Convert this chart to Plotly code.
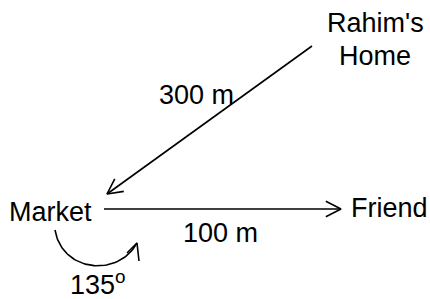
import numpy as np
import plotly.graph_objects as go

# Diagram nodes (pixel-like coordinate frame, y down)
node_names = ["Rahim's Home", "Market", "Friend"]
node_x = [312, 104, 341]
node_y = [46, 194, 209]

# Edges: (from, to), labels and label positions
edge_from = [(312, 46), (104, 209)]
edge_to = [(107, 194), (341, 209)]
edge_labels = ["300 m", "100 m"]
edge_label_x = [196, 220]
edge_label_y = [95, 233]

# Text labels
text_labels = ["Rahim's", "Home", "Market", "Friend"]
text_x = [375, 375, 50, 389]
text_y = [23, 56, 212, 208]

angle_label = "135<sup>o</sup>"
angle_x, angle_y = 98, 283

FONT = dict(family="Liberation Sans, Arial, sans-serif", size=27, color="black")

fig = go.Figure()

def arrowhead(p_from, p_to, length=17, half_angle=27):
    d = np.array(p_to, float) - np.array(p_from, float)
    d /= np.linalg.norm(d)
    pts = []
    for s in (1, -1):
        a = np.radians(s * half_angle)
        rot = np.array([[np.cos(a), -np.sin(a)], [np.sin(a), np.cos(a)]])
        back = rot @ (-d) * length
        pts.append(np.array(p_to) + back)
    return pts

for p0, p1 in zip(edge_from, edge_to):
    fig.add_trace(go.Scatter(x=[p0[0], p1[0]], y=[p0[1], p1[1]], mode="lines",
                             line=dict(color="black", width=1.6), hoverinfo="skip"))
    a1, a2 = arrowhead(p0, p1)
    fig.add_trace(go.Scatter(x=[a1[0], p1[0], a2[0]], y=[a1[1], p1[1], a2[1]], mode="lines",
                             line=dict(color="black", width=1.6), hoverinfo="skip"))

# Curved angle arrow
t = np.linspace(0, 1, 60)
P0, P1, P2, P3 = np.array([55, 230]), np.array([62, 272]), np.array([118, 278]), np.array([137, 243])
curve = ((1 - t)[:, None] ** 3) * P0 + 3 * ((1 - t)[:, None] ** 2) * t[:, None] * P1 \
    + 3 * (1 - t)[:, None] * (t[:, None] ** 2) * P2 + (t[:, None] ** 3) * P3
fig.add_trace(go.Scatter(x=curve[:, 0], y=curve[:, 1], mode="lines",
                         line=dict(color="black", width=1.6), hoverinfo="skip"))
fig.add_trace(go.Scatter(x=[127, 137, 139], y=[253, 243, 261], mode="lines",
                         line=dict(color="black", width=1.6), hoverinfo="skip"))

for txt, x, y in zip(text_labels, text_x, text_y):
    fig.add_annotation(x=x, y=y, text=txt, showarrow=False, font=FONT,
                       xanchor="center", yanchor="middle")
for txt, x, y in zip(edge_labels, edge_label_x, edge_label_y):
    fig.add_annotation(x=x, y=y, text=txt, showarrow=False, font=FONT,
                       xanchor="center", yanchor="middle")
fig.add_annotation(x=angle_x, y=angle_y, text=angle_label, showarrow=False, font=FONT,
                   xanchor="center", yanchor="middle")

fig.update_layout(
    width=430, height=299, margin=dict(l=0, r=0, t=0, b=0),
    paper_bgcolor="white", plot_bgcolor="white", showlegend=False,
    xaxis=dict(range=[0, 430], visible=False, fixedrange=True),
    yaxis=dict(range=[299, 0], visible=False, fixedrange=True),
)
fig.write_html("out.html", config={"displayModeBar": False},
               post_script="document.body.style.margin='0';document.body.style.padding='0';")
